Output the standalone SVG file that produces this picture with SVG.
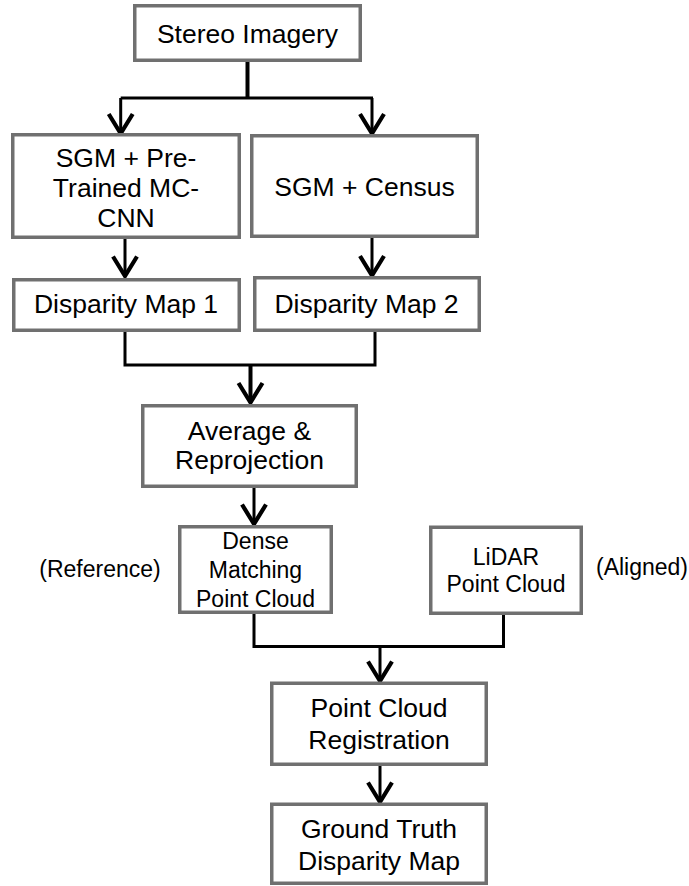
<svg xmlns="http://www.w3.org/2000/svg" width="689" height="886" viewBox="0 0 689 886">
<style>
.box{fill:#fff;stroke:#707070;stroke-width:3.5}
.t{font-family:"Liberation Sans",Arial,sans-serif;font-size:26.5px;fill:#000;text-anchor:middle}
.s{font-size:23px}
.c{fill:none;stroke:#000;stroke-width:3}
.a{marker-end:url(#ah)}
.k{stroke-width:4}
</style>
<defs>
<marker id="ah" markerUnits="userSpaceOnUse" orient="auto" refX="0" refY="0" markerWidth="30" markerHeight="30" viewBox="-16 -10 18 20" overflow="visible">
<path d="M-13,-8 L0,0 L-13,8" fill="none" stroke="#000" stroke-width="2.8"/>
</marker>
</defs>
<rect width="689" height="886" fill="#fff"/>
<g id="connectors">
<path class="c k" d="M247.5,62 V98"/>
<path class="c" d="M120.7,98 H373"/>
<path class="c a" d="M120.7,98 V133.5"/>
<path class="c a" d="M372,98 V133.5"/>
<path class="c a" d="M125,239 V276"/>
<path class="c a" d="M372,238 V275.5"/>
<path class="c" d="M125,332 V365 H375 V332"/>
<path class="c k a" d="M250.5,365 V402.5"/>
<path class="c a" d="M254,488 V524"/>
<path class="c" d="M254,614 V646.5 H503.5 V615"/>
<path class="c a" d="M380,646.5 V681"/>
<path class="c a" d="M380,766 V802"/>
</g>
<g id="stereo">
<rect class="box" x="134.75" y="5.75" width="225.5" height="54.5"/>
<text class="t" x="247.5" y="42.5">Stereo Imagery</text>
</g>
<g id="sgm-mccnn">
<rect class="box" x="12.75" y="134.75" width="226.5" height="102.5"/>
<text class="t" x="126" y="167">SGM + Pre-</text>
<text class="t" x="126" y="197">Trained MC-</text>
<text class="t" x="126" y="227">CNN</text>
</g>
<g id="sgm-census">
<rect class="box" x="251.75" y="135.75" width="225.5" height="100.5"/>
<text class="t" x="364.5" y="196">SGM + Census</text>
</g>
<g id="disp1">
<rect class="box" x="13.75" y="279.75" width="225.5" height="50.5"/>
<text class="t" x="126" y="313">Disparity Map 1</text>
</g>
<g id="disp2">
<rect class="box" x="254.75" y="277.75" width="224.5" height="52.5"/>
<text class="t" x="366.5" y="313">Disparity Map 2</text>
</g>
<g id="average">
<rect class="box" x="142.75" y="405.75" width="213.5" height="80.5"/>
<text class="t" x="249.5" y="440">Average &amp;</text>
<text class="t" x="249.5" y="469">Reprojection</text>
</g>
<g id="dense">
<rect class="box" x="179.75" y="526.75" width="151.5" height="85.5"/>
<text class="t s" x="255.5" y="549">Dense</text>
<text class="t s" x="255.5" y="578">Matching</text>
<text class="t s" x="255.5" y="607">Point Cloud</text>
</g>
<g id="reference-label">
<text class="t s" x="100" y="577">(Reference)</text>
</g>
<g id="lidar">
<rect class="box" x="430.75" y="527.25" width="150.5" height="86"/>
<text class="t s" x="506" y="565">LiDAR</text>
<text class="t s" x="506" y="592">Point Cloud</text>
</g>
<g id="aligned-label">
<text class="t s" x="642" y="575">(Aligned)</text>
</g>
<g id="registration">
<rect class="box" x="271.75" y="683.25" width="214.5" height="81"/>
<text class="t" x="379" y="717">Point Cloud</text>
<text class="t" x="379" y="749">Registration</text>
</g>
<g id="ground-truth">
<rect class="box" x="271.75" y="804.25" width="214.5" height="79"/>
<text class="t" x="379" y="838">Ground Truth</text>
<text class="t" x="379" y="870">Disparity Map</text>
</g>
</svg>
